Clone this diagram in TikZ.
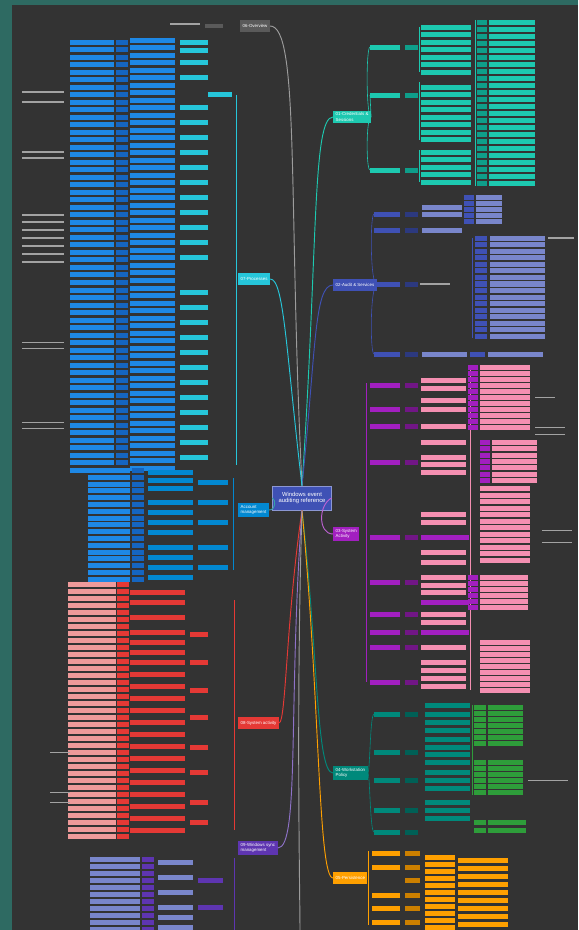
\documentclass[tikz,border=0pt]{standalone}
\usepackage{fontspec}
\setmainfont{Liberation Sans}
\definecolor{outer}{HTML}{2E6A62}
\definecolor{panel}{HTML}{333333}
\definecolor{Ta}{HTML}{1DC9B0}
\definecolor{Tb}{HTML}{0E9E8A}
\definecolor{Ia}{HTML}{3F51B5}
\definecolor{La}{HTML}{7986CB}
\definecolor{Pa}{HTML}{A21FC0}
\definecolor{Ka}{HTML}{F48FB1}
\definecolor{Da}{HTML}{00897B}
\definecolor{Ga}{HTML}{2E9D3A}
\definecolor{Oa}{HTML}{FFA000}
\definecolor{Ca}{HTML}{26C6DA}
\definecolor{Ba}{HTML}{1E88E5}
\definecolor{Bb}{HTML}{1565C0}
\definecolor{Bc}{HTML}{0288D1}
\definecolor{Ra}{HTML}{E53935}
\definecolor{Sa}{HTML}{EF9A9A}
\definecolor{Va}{HTML}{5E35B1}
\definecolor{Vb}{HTML}{7986CB}
\definecolor{Gy}{HTML}{5A5A5A}
\newcommand\lf[4]{\fill[#4] (#1,#2) rectangle ++(#3,5);}
\newcommand\tx[3]{\fill[white!55!panel] (#1,#2+1.5) rectangle ++(#3,1.6);}
\tikzset{
  mainbox/.style={rectangle, text=white, font=\fontsize{3.3}{4}\selectfont, align=left, inner xsep=1.8, inner ysep=1.5, anchor=west, minimum height=9},
  link/.style={line width=0.7},
  thin link/.style={line width=0.45}
}
\begin{document}
\begin{tikzpicture}[x=0.75pt,y=-0.75pt]
\useasboundingbox (0,0) rectangle (578,930);
\fill[outer] (0,0) rectangle (578,930);
\fill[panel] (12,5) rectangle (578,930);

% ---------- centre ----------
\node[rectangle, fill=Ia, draw=Ia!60!white, line width=0.4, text=white, font=\fontsize{4.4}{5.2}\selectfont, align=center, minimum width=44, minimum height=18, inner sep=1.5] (c) at (302,498) {Windows event\\auditing reference};

% ---------- main branch nodes ----------
\node[mainbox, fill=Ta] (r1) at (333,117) {01-Credentials \&\\Sessions};
\node[mainbox, fill=Ia] (r2) at (333,285) {02-Audit \& Services};
\node[mainbox, fill=Pa] (r3) at (333,534) {03-System\\Activity};
\node[mainbox, fill=Da] (r4) at (333,773) {04-Workstation\\Policy};
\node[mainbox, fill=Oa] (r5) at (333,878) {05-Persistence};
\node[mainbox, fill=Gy] (l0) at (240,26) {06-Overview};
\node[mainbox, fill=Ca] (l1) at (238,279) {07-Processes};
\node[mainbox, fill=Bc] (l2) at (238,510) {Account\\management};
\node[mainbox, fill=Ra] (l3) at (238,723) {08-System activity};
\node[mainbox, fill=Va] (l4) at (238,848) {09-Windows sync\\management};

% ---------- centre connectors ----------
\draw[link, Ta] (c.north) .. controls (318,250) and (312,117) .. (r1.west);
\draw[link, Ia] (c.north) .. controls (316,350) and (314,285) .. (r2.west);
\draw[link, Pa!70!white] (c.east) .. controls (318,505) and (318,534) .. (r3.west);
\draw[link, Da] (c.south) .. controls (318,650) and (316,773) .. (r4.west);
\draw[link, Oa] (c.south) .. controls (320,700) and (318,878) .. (r5.west);
\draw[link, Gy!60!white] (c.north) .. controls (288,200) and (300,26) .. (l0.east);
\draw[link, Ca] (c.north) .. controls (286,350) and (284,279) .. (l1.east);
\draw[link, Bc!80!yellow] (c.west) .. controls (276,500) and (276,510) .. (l2.east);
\draw[link, Ra] (c.south) .. controls (286,620) and (286,723) .. (l3.east);
\draw[link, Va!70!white] (c.south) .. controls (288,700) and (300,848) .. (l4.east);
\draw[link, Gy!60!white] (c.south) .. controls (296,700) and (300,900) .. (300,930);

% =================== RIGHT 1 (teal) ===================
\draw[thin link, Ta] (r1.east) .. controls (366,117) and (366,47) .. (370,47);
\draw[thin link, Ta] (r1.east) .. controls (366,117) and (366,170) .. (370,170);
\draw[thin link, Ta] (r1.east) -- (370,95);
\foreach \y in {45,93,168} {\lf{370}{\y}{30}{Ta} \lf{405}{\y}{13}{Tb}}
\draw[thin link, Ta] (419,27) -- (419,72) (419,82) -- (419,140) (419,150) -- (419,182);
\foreach \y in {25,32,40,47,55,62,70,85,92,100,107,115,122,130,137,150,157,165,172,180} {\lf{421}{\y}{50}{Ta}}
\draw[thin link, Ta] (475,20) -- (475,186);
\foreach \y in {20,27,...,183} {\lf{477}{\y}{10}{Tb} \lf{489}{\y}{46}{Ta}}

% =================== RIGHT 2 (indigo) ===================
\draw[thin link, Ia] (r2.east) .. controls (370,285) and (370,214) .. (374,214);
\draw[thin link, Ia] (r2.east) .. controls (370,285) and (370,354) .. (374,354);
\foreach \y in {212,228,282,352} {\lf{374}{\y}{26}{Ia} \lf{405}{\y}{13}{Ia!70!black}}
\foreach \y in {205,212,228} {\lf{422}{\y}{40}{La}}
\lf{422}{352}{45}{La}
\foreach \y in {195,201,207,213,219} {\lf{464}{\y}{10}{Ia} \lf{476}{\y}{26}{La}}
\draw[thin link, Ia] (472,238) -- (472,338);
\foreach \y in {236,242.5,...,336} {\lf{475}{\y}{12}{Ia} \lf{490}{\y}{55}{La}}
\tx{548}{236}{26}
\lf{470}{352}{15}{Ia} \lf{488}{352}{55}{La}
\tx{420}{282}{30}

% =================== RIGHT 3 (purple / pink) ===================
\draw[thin link, Pa] (366,383) -- (366,682);
\foreach \y in {383,407,424,460,535,580,612,630,645,680} {\lf{370}{\y}{30}{Pa} \lf{405}{\y}{13}{Pa!70!black}}
\foreach \y in {378,386,398,407,424,440,455,462,470,512,520,550,560,575,583,590,600,612,620,630,645,660,668,676,684} {\lf{421}{\y}{45}{Ka}}
\foreach \y in {535,600,630} {\lf{421}{\y}{48}{Pa}}
\draw[thin link, Ka] (470,366) -- (470,690);
\foreach \y in {365,371,...,425} {\lf{468}{\y}{10}{Pa} \lf{480}{\y}{50}{Ka}}
\foreach \y in {440,446.3,...,478} {\lf{480}{\y}{10}{Pa} \lf{492}{\y}{45}{Ka}}
\foreach \y in {486,492.5,...,560} {\lf{480}{\y}{50}{Ka}}
\foreach \y in {575,581,...,605} {\lf{468}{\y}{10}{Pa} \lf{480}{\y}{48}{Ka}}
\foreach \y in {640,646,...,688} {\lf{480}{\y}{50}{Ka}}
\tx{535}{395}{20} \tx{535}{425}{30} \tx{535}{432}{30} \tx{542}{528}{30} \tx{542}{540}{30}

% =================== RIGHT 4 (dark teal / green) ===================
\draw[thin link, Da] (r4.east) .. controls (370,773) and (370,714) .. (374,714);
\draw[thin link, Da] (r4.east) .. controls (370,773) and (370,832) .. (374,832);
\foreach \y in {712,750,778,808,830} {\lf{374}{\y}{26}{Da} \lf{405}{\y}{13}{Da!70!black}}
\foreach \y in {703,712,720,728,737,745,752,760,770,778,786,800,808,816} {\lf{425}{\y}{45}{Da}}
\draw[thin link, Ga] (472,705) -- (472,795);
\foreach \y in {705,711,...,745} {\lf{474}{\y}{12}{Ga} \lf{488}{\y}{35}{Ga}}
\foreach \y in {760,766,...,790} {\lf{474}{\y}{12}{Ga} \lf{488}{\y}{35}{Ga}}
\foreach \y in {820,828} {\lf{474}{\y}{12}{Ga} \lf{488}{\y}{38}{Ga}}
\tx{528}{778}{40}

% =================== RIGHT 5 (orange) ===================
\draw[thin link, Oa] (368,851) -- (368,925);
\foreach \y in {851,865,893,906,920} {\lf{372}{\y}{28}{Oa}}
\foreach \y in {851,865,878,893,906,920} {\lf{405}{\y}{15}{Oa!80!black}}
\foreach \y in {855,862,...,928} {\lf{425}{\y}{30}{Oa}}
\foreach \y in {858,866,...,925} {\lf{458}{\y}{50}{Oa}}

% =================== LEFT 0 (grey) ===================
\fill[Gy] (205,24) rectangle ++(18,4);
\tx{170}{22}{30}

% =================== LEFT 1 (cyan / blue) ===================
\draw[thin link, Ca] (236,95) -- (236,465);
\lf{208}{92}{24}{Ca}
\foreach \y in {40,48,60,75,105,120,135,150,165,180,195,210,225,240,255,290,305,320,335,350,365,380,395,410,425,440,455} {\lf{180}{\y}{28}{Ca}}
\foreach \y in {38,45.5,...,470} {\lf{130}{\y}{45}{Ba}}
\foreach \y in {40,47.5,...,470} {\lf{116}{\y}{12}{Bb} \lf{70}{\y}{44}{Ba}}
\foreach \y in {90,100,150,156,213,220,228,236,244,252,260,340,346,420,426} {\tx{22}{\y}{42}}

% =================== LEFT 2 (blue) ===================
\foreach \y in {468,474.8,...,578} {\lf{88}{\y}{42}{Ba} \lf{132}{\y}{12}{Bb}}
\foreach \y in {470,478,486,500,510,520,530,545,555,565,575} {\lf{148}{\y}{45}{Bc}}
\foreach \y in {480,500,520,545,565} {\lf{198}{\y}{30}{Bc}}
\draw[thin link, Bc] (233,478) -- (233,570);

% =================== LEFT 3 (red) ===================
\draw[thin link, Ra] (234,600) -- (234,830);
\foreach \y in {582,589,...,835} {\lf{68}{\y}{48}{Sa} \lf{117}{\y}{12}{Ra}}
\foreach \y in {590,600,615,630,640,650,660,672,684,696,708,720,732,744,756,768,780,792,804,816,828} {\lf{130}{\y}{55}{Ra}}
\foreach \y in {632,660,688,715,745,770,800,820} {\lf{190}{\y}{18}{Ra}}
\foreach \y in {750,790,800} {\tx{50}{\y}{20}}

% =================== LEFT 4 (purple) ===================
\draw[thin link, Va] (234,858) -- (234,930);
\foreach \y in {857,864,...,928} {\lf{90}{\y}{50}{Vb} \lf{142}{\y}{12}{Va}}
\foreach \y in {860,875,890,905,915,925} {\lf{158}{\y}{35}{Vb}}
\foreach \y in {878,905} {\lf{198}{\y}{25}{Va}}
\end{tikzpicture}
\end{document}
